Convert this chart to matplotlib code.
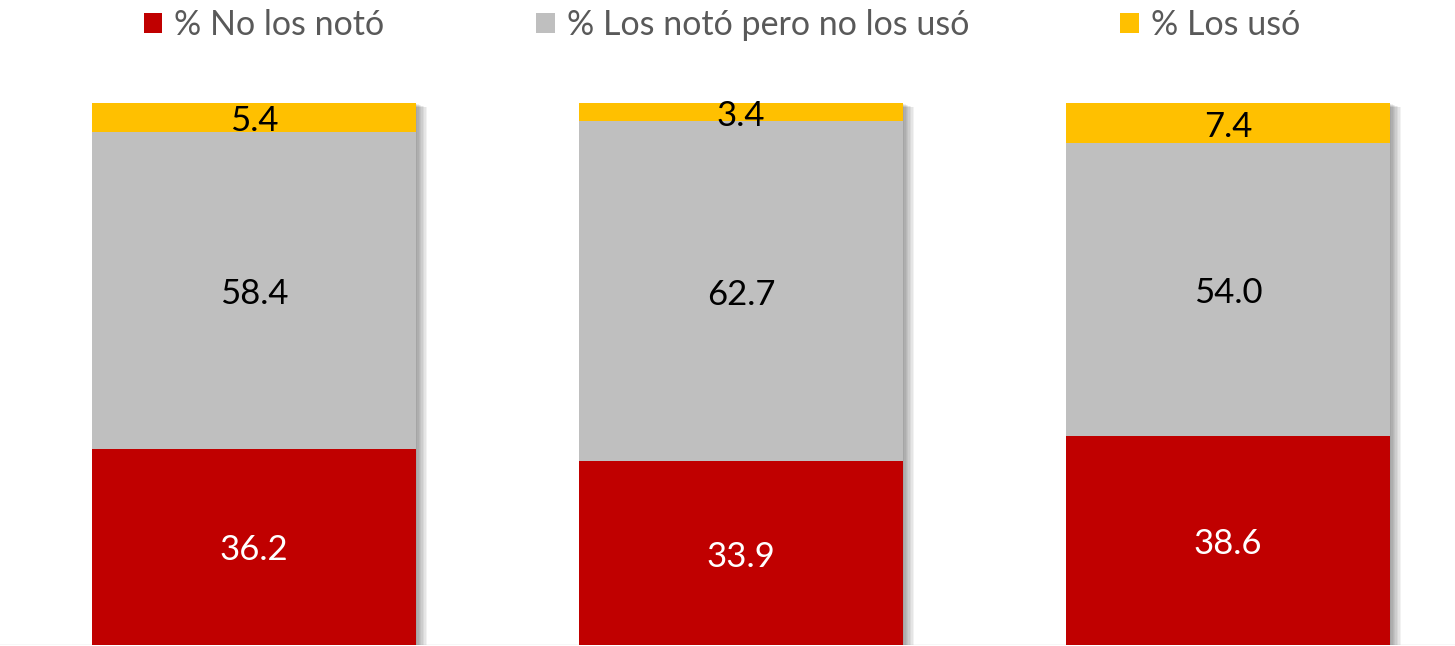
import matplotlib
matplotlib.use("Agg")
import matplotlib.pyplot as plt
import matplotlib.patheffects as pe
from matplotlib.patches import Patch
import numpy as np

# data
groups = ["A", "B", "C"]
no_noto = [36.2, 33.9, 38.6]
noto_no_uso = [58.4, 62.7, 54.0]
uso = [5.4, 3.4, 7.4]
series_names = ["% No los notó", "% Los notó pero no los usó", "% Los usó"]
colors = ["#C00000", "#BFBFBF", "#FFC000"]
label_colors = ["white", "black", "black"]

plt.rcParams["font.family"] = ["Lato", "DejaVu Sans"]

W, H = 1455, 646
fig = plt.figure(figsize=(W / 100, H / 100), dpi=100)
# axes spans the whole width; 100 % maps to 542 px above the bottom line
ax = fig.add_axes([0, 1 / H, 1, (H - 1) / H])
ax.set_xlim(-254 / 487, (W - 254) / 487)
ax.set_ylim(0, 100 * (H - 1) / 542)
ax.axis("off")

x = np.arange(len(groups))
width = 0.665
totals = np.array(no_noto) + np.array(noto_no_uso) + np.array(uso)

# soft shadow behind each full stack
shadow = [pe.SimplePatchShadow(offset=(d, -d * 0.4), shadow_rgbFace="black", alpha=0.05)
          for d in range(1, 9)]
ax.bar(x, totals, width, color="white", zorder=1, path_effects=shadow + [pe.Normal()])

bottom = np.zeros(len(groups))
for vals, col, lc in zip([no_noto, noto_no_uso, uso], colors, label_colors):
    bars = ax.bar(x, vals, width, bottom=bottom, color=col, zorder=2, linewidth=0)
    texts = ax.bar_label(bars, labels=[f"{v:.1f}" for v in vals], label_type="center",
                         color=lc, fontsize=25, zorder=3)
    for t in texts:
        t.xyann = (0, -2.5)
    bottom += np.array(vals)

ax.axhline(0, color="#D9D9D9", lw=1, zorder=0)

handles = [Patch(facecolor=c, edgecolor="none") for c in colors]
fig.legend(handles, series_names, loc="center", bbox_to_anchor=(722 / W, 1 - 25 / H),
           ncol=3, frameon=False, fontsize=24.5, labelcolor="#595959",
           handlelength=0.55, handleheight=0.55, handletextpad=0.35, columnspacing=4.45)

fig.savefig("out.png", dpi=100)
